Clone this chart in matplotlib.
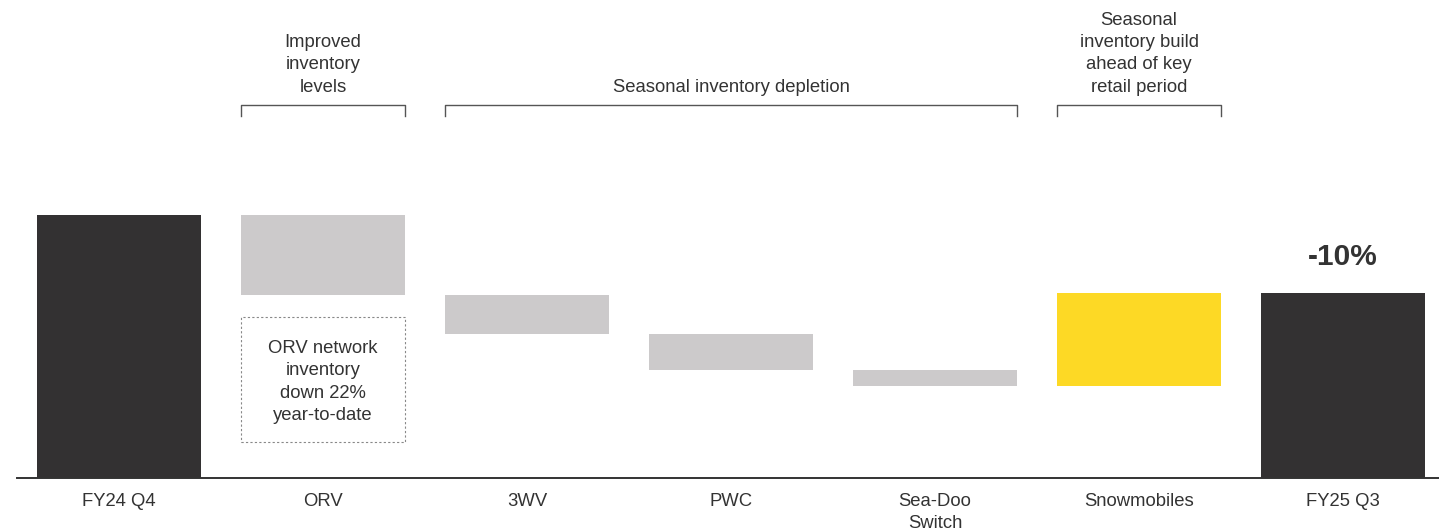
import matplotlib
matplotlib.use("Agg")
import matplotlib.pyplot as plt
from matplotlib.patches import Rectangle
import matplotlib.transforms as mtransforms

plt.rcParams['font.family'] = ['Liberation Sans', 'DejaVu Sans']

# Network inventory walk (index, FY24 Q4 = 100)
categories = ["FY24 Q4", "ORV", "3WV", "PWC", "Sea-Doo\nSwitch", "Snowmobiles", "FY25 Q3"]
start_value = 100.0
changes = [-10.3, -4.9, -4.7, -2.0, 11.9]
end_value = 90.0
change_label = "-10%"

DARK = "#333132"
GREY = "#cccacb"
YELLOW = "#fdd925"
TEXT = "#333333"
FS = 13.3
LS = 1.4

fig = plt.figure(figsize=(14.39, 5.31), dpi=100)
ax = fig.add_axes([17 / 1439, 53 / 531, 1 - 17 / 1439, 478 / 531])

width = 0.804
x = list(range(len(categories)))

# Totals
ax.bar(x[0], start_value, width=width, color=DARK, zorder=2)
ax.bar(x[-1], end_value, width=width, color=DARK, zorder=2)

# Floating change bars
level = start_value
for i, d in enumerate(changes, start=1):
    lo, hi = sorted((level, level + d))
    ax.bar(x[i], hi - lo, bottom=lo, width=width,
           color=YELLOW if d > 0 else GREY, zorder=2)
    level += d

ybottom = 66.3
ax.set_ylim(ybottom, ybottom + 478 / 7.8)
ax.set_xlim(-0.5, 6.47)

for s in ["top", "right", "left"]:
    ax.spines[s].set_visible(False)
ax.spines["bottom"].set_color("#333333")
ax.spines["bottom"].set_linewidth(1.4)
ax.set_yticks([])
ax.set_xticks(x)
ax.set_xticklabels(categories, fontsize=FS, color=TEXT, linespacing=LS)
ax.tick_params(axis="x", length=0, pad=10.5)

# y positions for annotations given as axes fraction
trans = mtransforms.blended_transform_factory(ax.transData, ax.transAxes)
def fy(py):
    return (478 - py) / 478

# Change label above final bar
ax.text(x[-1], fy(257), change_label, transform=trans, ha="center", va="center",
        fontsize=21.5, fontweight="bold", color=TEXT)

# Brackets with group captions
def bracket(x0, x1, caption):
    ytop, ybot = fy(105), fy(116)
    ax.plot([x0, x0, x1, x1], [ybot, ytop, ytop, ybot], transform=trans,
            color="#555555", lw=1.0, clip_on=False)
    ax.text((x0 + x1) / 2, fy(95.5), caption, transform=trans, ha="center",
            va="bottom", fontsize=FS, color=TEXT, linespacing=LS)

half = width / 2
bracket(x[1] - half, x[1] + half, "Improved\ninventory\nlevels")
bracket(x[2] - half, x[4] + half, "Seasonal inventory depletion")
bracket(x[5] - half, x[5] + half, "Seasonal\ninventory build\nahead of key\nretail period")

# Dashed note box under ORV
box = Rectangle((x[1] - half, fy(442)), width, fy(317) - fy(442), transform=trans,
                fill=False, ls=(0, (2, 2)), lw=0.8, edgecolor="#888888")
ax.add_patch(box)
ax.text(x[1], fy(382), "ORV network\ninventory\ndown 22%\nyear-to-date",
        transform=trans, ha="center", va="center", fontsize=FS, color=TEXT,
        linespacing=LS)

fig.savefig("out.png", dpi=100)
